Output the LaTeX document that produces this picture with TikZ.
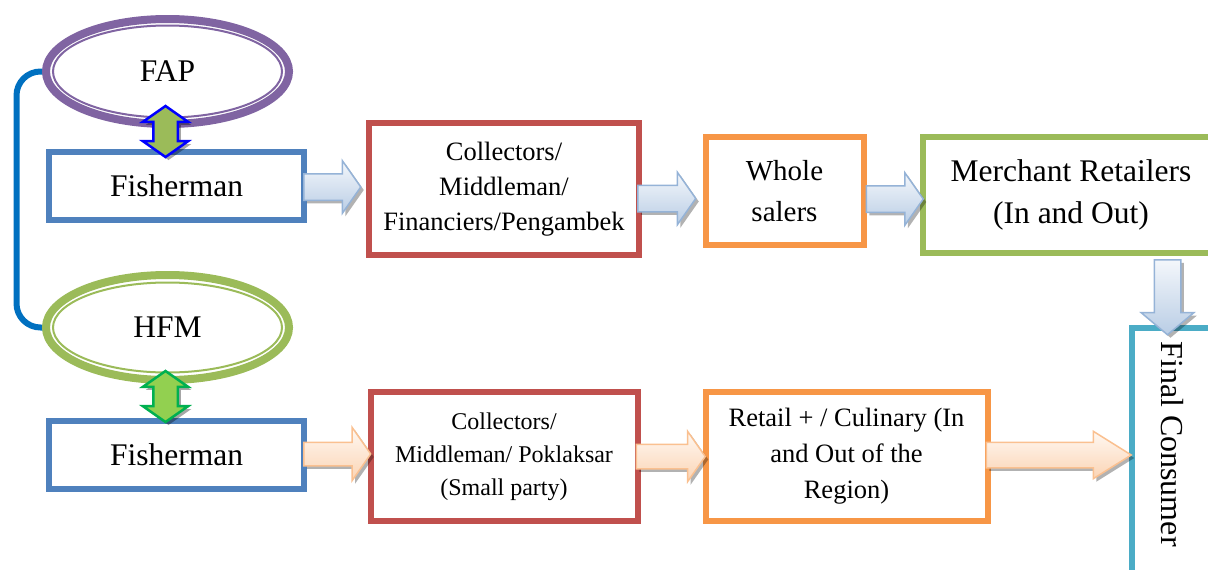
\documentclass[tikz,border=0pt]{standalone}
\usepackage{fontspec}
\setmainfont{Liberation Serif}
\usetikzlibrary{shapes.geometric,shapes.arrows,shadows,calc}
\definecolor{bleuBoite}{HTML}{4F81BD}
\definecolor{rougeBoite}{HTML}{C0504D}
\definecolor{orangeBoite}{HTML}{F79646}
\definecolor{vertBoite}{HTML}{9BBB59}
\definecolor{turquoiseBoite}{HTML}{4BACC6}
\definecolor{violetAnneau}{HTML}{8064A2}
\definecolor{bleuAccolade}{HTML}{0070C0}
\definecolor{bleuBord}{HTML}{95B3D7}
\definecolor{bleuHaut}{HTML}{F4F7FB}
\definecolor{bleuBas}{HTML}{B9CDE5}
\definecolor{orangeBord}{HTML}{FAC090}
\definecolor{orangeHaut}{HTML}{FFF8F2}
\definecolor{orangeBas}{HTML}{FBD4B4}
\definecolor{vertClair}{HTML}{92D050}
\definecolor{vertFonce}{HTML}{00B050}
\begin{document}
\begin{tikzpicture}[x=1pt,y=-1pt]
			% Styles (MODIFIABLES)
			\tikzstyle{boite}=[draw,rectangle,line width=6,fill=white,align=center]
			\tikzstyle{anneau}=[draw,ellipse,line width=8,fill=white,minimum width=243,minimum height=105]
			\tikzstyle{filet}=[line width=2]
			\tikzstyle{fleche}=[single arrow,draw,line width=1.5,inner xsep=0,inner ysep=12.5,single arrow head extend=13,single arrow tip angle=110,drop shadow={shadow xshift=3pt,shadow yshift=-3pt,fill=black,opacity=.3}]
			\tikzstyle{flecheBleue}=[fleche,draw=bleuBord,top color=bleuHaut,bottom color=bleuBas]
			\tikzstyle{flecheOrange}=[fleche,draw=orangeBord,top color=orangeHaut,bottom color=orangeBas]
			\tikzstyle{lien}=[double arrow,rotate=90,line width=2.5,inner xsep=0,inner ysep=11,double arrow head extend=10.5,double arrow tip angle=110,minimum height=51,drop shadow={shadow xshift=3pt,shadow yshift=-3pt,fill=black,opacity=.35}]
			\tikzstyle{accolade}=[draw=bleuAccolade,line width=6,rounded corners=24]
			% Polices (MODIFIABLES)
			\def\Grand{\fontsize{31.5}{42}\selectfont}
			\def\Moyen{\fontsize{26.5}{35}\selectfont}
			\def\Petit{\fontsize{24}{33}\selectfont}
			%
			\clip (0,0) rectangle (1208,570);
			% Accolade
			\draw[accolade] (44,71.5) -| (16.5,200) |- (44,327.5);
			% Noeuds
			\node[anneau,draw=violetAnneau,font=\Grand] (FAP) at (167.5,71.5) {FAP};
			\draw[filet,draw=violetAnneau] (FAP.center) ellipse [x radius=114.5,y radius=46];
			\node[anneau,draw=vertBoite,font=\Grand] (HFM) at (167.5,327.5) {HFM};
			\draw[filet,draw=vertBoite] (HFM.center) ellipse [x radius=114.5,y radius=45];
			%
			\node[boite,draw=bleuBoite,minimum width=255,minimum height=68,font=\Grand] (P1) at (176.5,186) {Fisherman};
			\node[boite,draw=rougeBoite,minimum width=270,minimum height=132,font=\Moyen] (C1) at (504,189) {Collectors/\\Middleman/\\Financiers/Pengambek};
			\node[boite,draw=orangeBoite,minimum width=158,minimum height=108,font=\fontsize{29}{41}\selectfont] (G1) at (784.5,191) {Whole\\salers};
			\node[boite,draw=vertBoite,minimum width=296,minimum height=116,font=\Grand] (D1) at (1071,195) {Merchant Retailers\\(In and Out)};
			\node[boite,draw=turquoiseBoite,minimum width=90,minimum height=250,inner sep=0] (CF) at (1176.5,453) {};
			\node[rotate=-90,font=\fontsize{32}{38}\selectfont] (CFt) at (1172,444) {Final Consumer};
			%
			\node[boite,draw=bleuBoite,minimum width=255,minimum height=68,font=\Grand] (P2) at (176.5,455) {Fisherman};
			\node[boite,draw=rougeBoite,minimum width=267,minimum height=129,font=\Petit] (C2) at (504,456.5) {Collectors/\\Middleman/ Poklaksar\\(Small party)};
			\node[boite,draw=orangeBoite,minimum width=282,minimum height=129,font=\fontsize{26.5}{36}\selectfont] (R2) at (846.5,456.5) {Retail + / Culinary (In\\and Out of the\\Region)};
			% Fleches (MODIFIABLES : Styles)
			\node[lien,draw=blue,fill=vertBoite] (l1) at (165.5,131.5) {};
			\node[lien,draw=vertFonce,fill=vertClair] (l2) at (165.5,396.5) {};
			%
			\node[flecheBleue,anchor=tail,minimum height=57] (f1) at ($(P1.east |- 0,187)+(-4,0)$) {};
			\node[flecheBleue,anchor=tail,minimum height=58] (f2) at ($(C1.east |- 0,198.5)+(-5,0)$) {};
			\node[flecheBleue,anchor=tail,minimum height=57] (f3) at ($(G1.east |- 0,199)+(-1,0)$) {};
			\node[flecheBleue,anchor=tail,rotate=-90,minimum height=75,single arrow tip angle=100] (f4) at ($(D1.south -| 1167.5,0)+(0,3)$) {};
			\node[flecheOrange,anchor=tail,minimum height=67,inner ysep=11,single arrow head extend=15] (f5) at ($(P2.east |- 0,454)+(-4,0)$) {};
			\node[flecheOrange,anchor=tail,minimum height=69,inner ysep=11.5] (f6) at ($(C2.east |- 0,456.5)+(-5,0)$) {};
			\node[flecheOrange,anchor=tail,minimum height=145,inner ysep=12,single arrow head extend=11,single arrow tip angle=64] (f7) at ($(R2.east |- 0,455)+(-5,0)$) {};
\end{tikzpicture}
\end{document}
